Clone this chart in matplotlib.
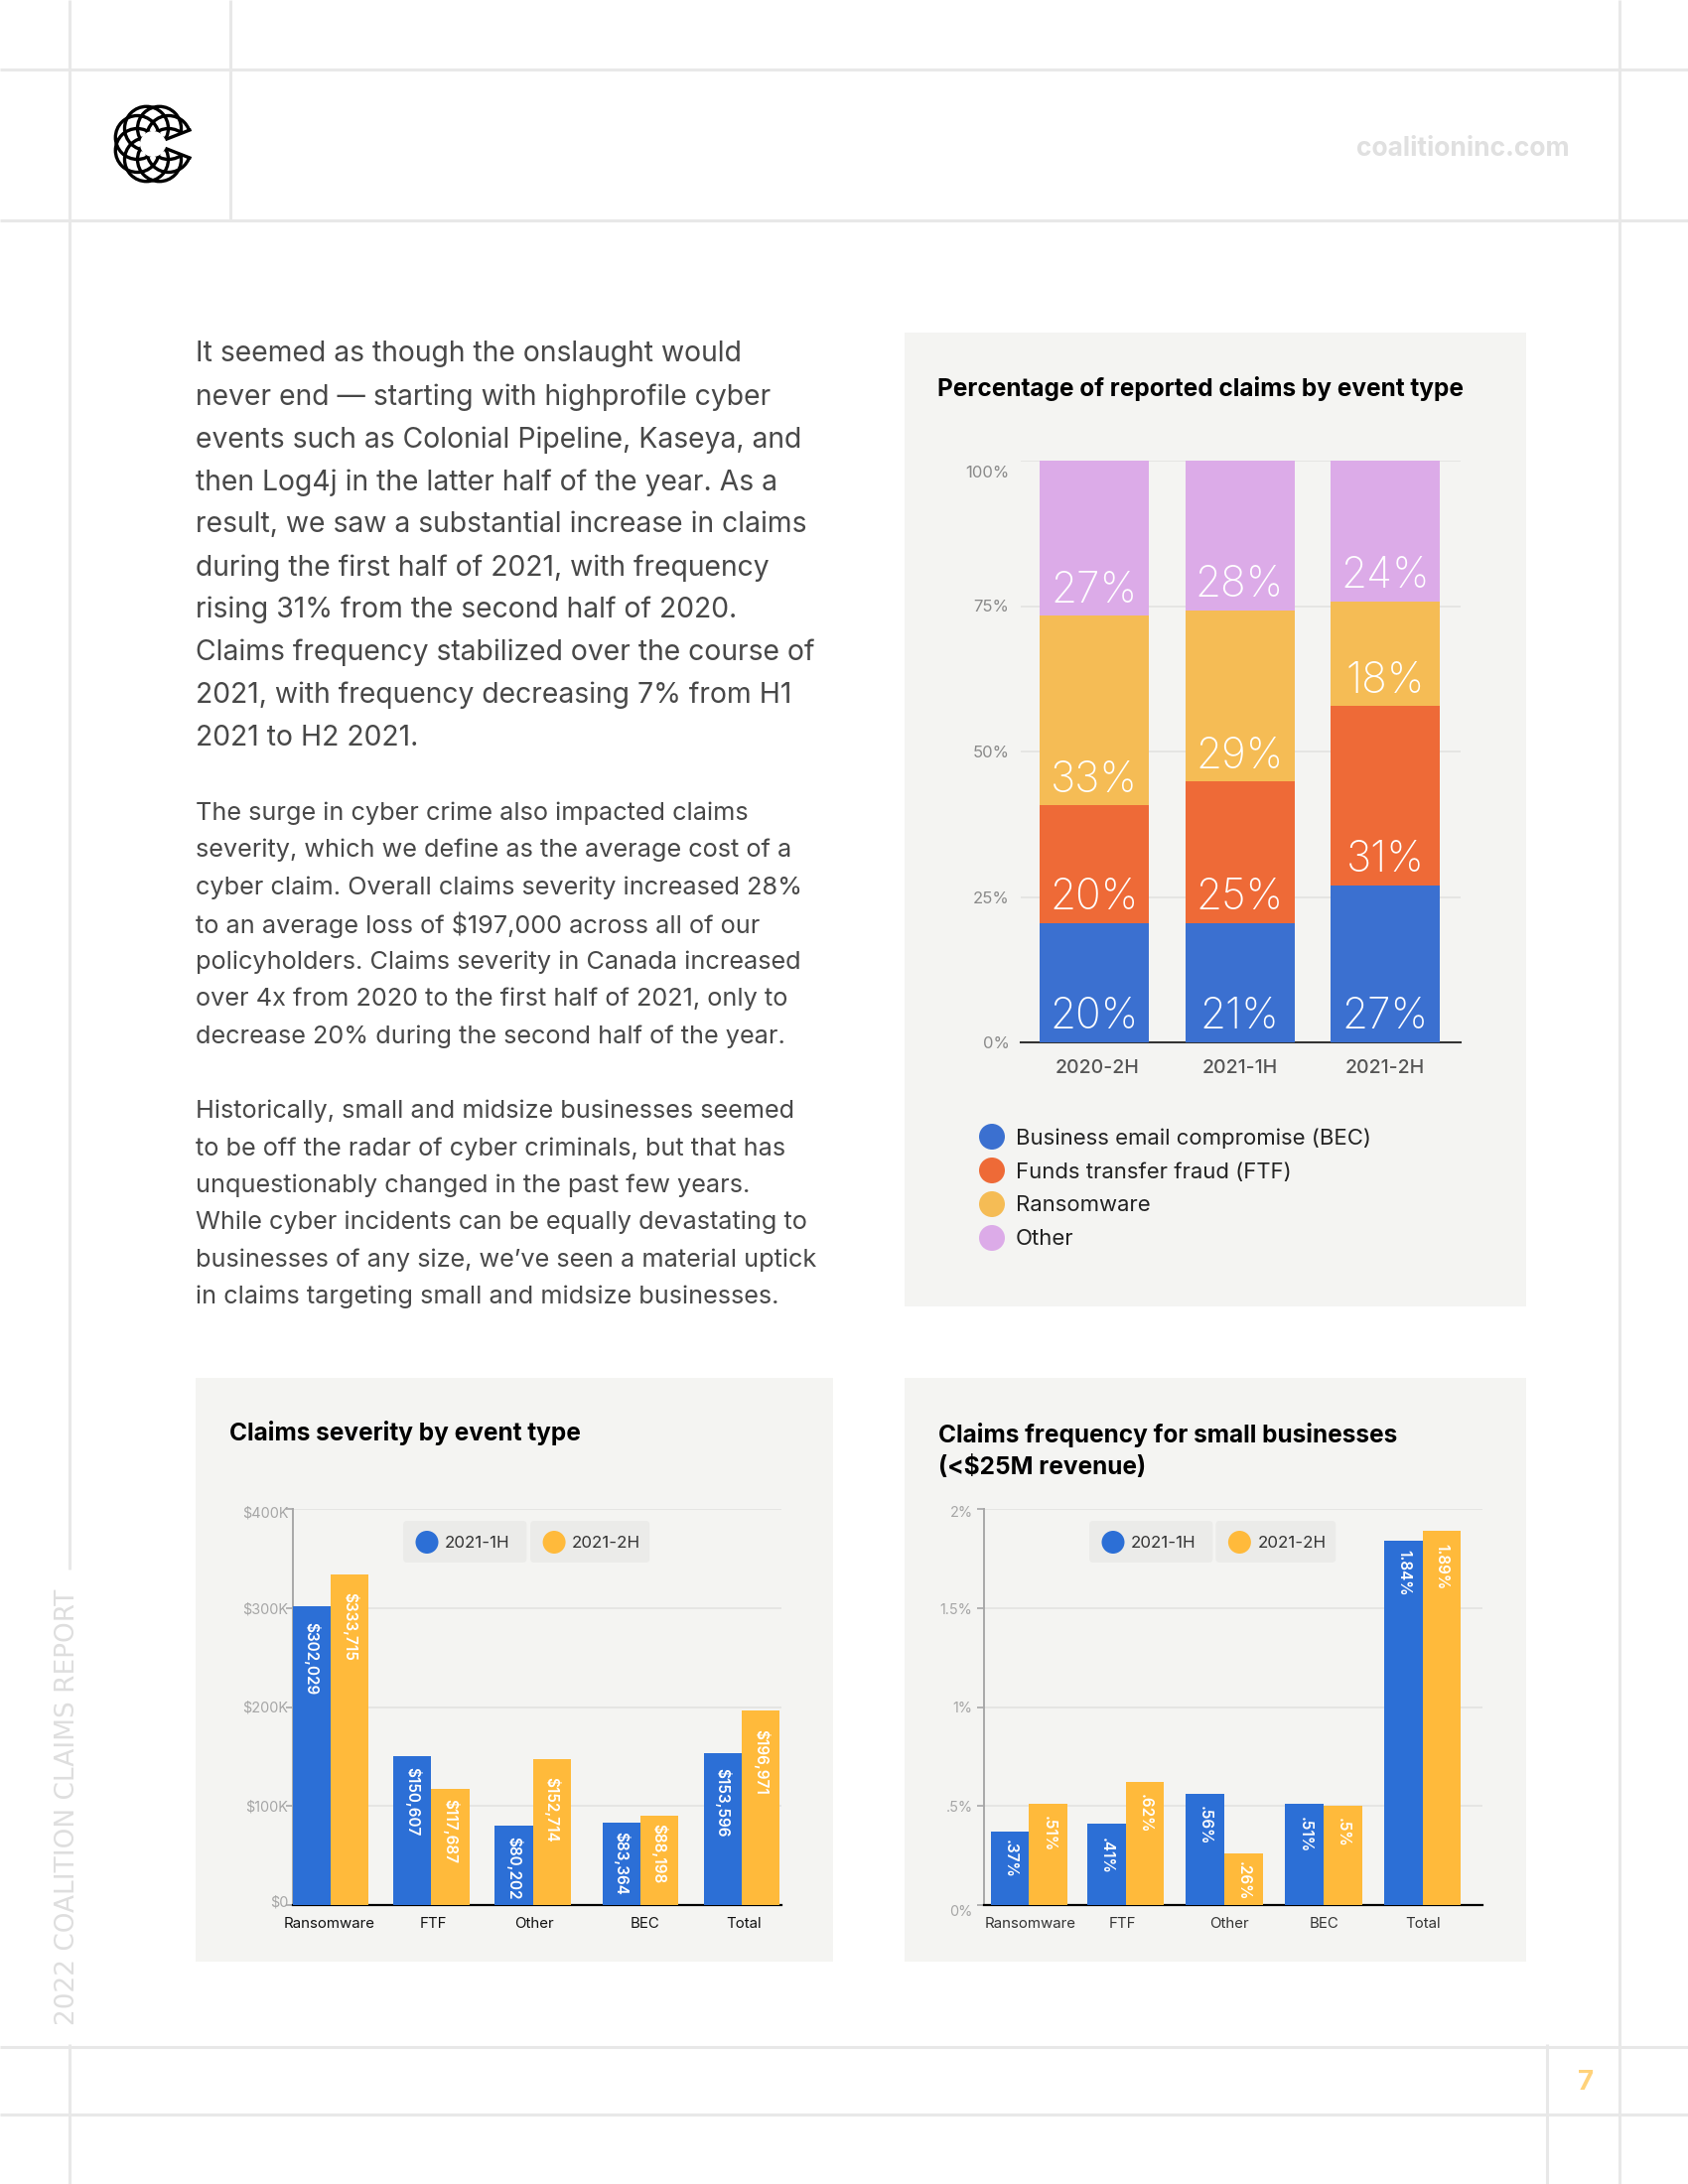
import matplotlib
matplotlib.use('Agg')
import matplotlib.pyplot as plt
from matplotlib.patches import Circle, FancyBboxPatch, Rectangle, Wedge
from matplotlib.transforms import ScaledTranslation
import numpy as np

plt.rcParams['font.family'] = ['Inter', 'DejaVu Sans']

# Stacked chart data (heights as drawn, labels as printed)
periods = ['2020-2H', '2021-1H', '2021-2H']
event_names = ['Business email compromise (BEC)', 'Funds transfer fraud (FTF)', 'Ransomware', 'Other']
bec_share = [20.5, 20.5, 27.0]
ftf_share = [20.2, 24.3, 30.8]
ransom_share = [32.6, 29.4, 18.0]
other_share = [26.7, 25.8, 24.2]
bec_labels = ['20%', '21%', '27%']
ftf_labels = ['20%', '25%', '31%']
ransom_labels = ['33%', '29%', '18%']
other_labels = ['27%', '28%', '24%']

# Grouped charts data
claim_types = ['Ransomware', 'FTF', 'Other', 'BEC', 'Total']
severity_1h = [302029, 150607, 80202, 83364, 153596]
severity_2h = [333715, 117687, 147000, 90000, 196971]
severity_1h_labels = ['$302,029', '$150,607', '$80,202', '$83,364', '$153,596']
severity_2h_labels = ['$333,715', '$117,687', '$152,714', '$88,198', '$196,971']
freq_1h = [0.37, 0.41, 0.56, 0.51, 1.84]
freq_2h = [0.51, 0.62, 0.26, 0.50, 1.89]
freq_1h_labels = ['.37%', '.41%', '.56%', '.51%', '1.84%']
freq_2h_labels = ['.51%', '.62%', '.26%', '.5%', '1.89%']

para_1 = ['It seemed as though the onslaught would',
          'never end \u2014 starting with highprofile cyber',
          'events such as Colonial Pipeline, Kaseya, and',
          'then Log4j in the latter half of the year. As a',
          'result, we saw a substantial increase in claims',
          'during the first half of 2021, with frequency',
          'rising 31% from the second half of 2020.',
          'Claims frequency stabilized over the course of',
          '2021, with frequency decreasing 7% from H1',
          '2021 to H2 2021.']
para_2 = ['The surge in cyber crime also impacted claims',
          'severity, which we define as the average cost of a',
          'cyber claim. Overall claims severity increased 28%',
          'to an average loss of $197,000 across all of our',
          'policyholders. Claims severity in Canada increased',
          'over 4x from 2020 to the first half of 2021, only to',
          'decrease 20% during the second half of the year.']
para_3 = ['Historically, small and midsize businesses seemed',
          'to be off the radar of cyber criminals, but that has',
          'unquestionably changed in the past few years.',
          'While cyber incidents can be equally devastating to',
          'businesses of any size, we\u2019ve seen a material uptick',
          'in claims targeting small and midsize businesses.']

W, H = 1700, 2200
BLUE, YELLOW = '#2c6fd6', '#ffba3b'
STACK_COLORS = ['#3b70d0', '#ee6a37', '#f5bc55', '#dcabe8']
PANEL = '#f4f4f2'
GRID = '#e5e5e3'
RULE = '#e8e8e8'

fig = plt.figure(figsize=(W / 100, H / 100), dpi=100, facecolor='white')

# full page layer in pixel coordinates
page = fig.add_axes([0, 0, 1, 1], zorder=0)
page.set_xlim(0, W)
page.set_ylim(H, 0)
page.axis('off')


def axes_px(left, top, right, bottom):
    ax = fig.add_axes([left / W, 1 - bottom / H, (right - left) / W, (bottom - top) / H], zorder=2)
    ax.patch.set_alpha(0)
    return ax


def nudge(label, dy_px):
    label.set_transform(label.get_transform() + ScaledTranslation(0, -dy_px / 100, fig.dpi_scale_trans))


# page rules
for y in [69.5, 222, 2062, 2130]:
    page.plot([0, W], [y, y], color=RULE, lw=2.2, solid_capstyle='butt')
for x, y0, y1 in [(70, 0, 1581), (70, 2059, H), (232, 0, 222), (1631, 0, H), (1558, 2059, H)]:
    page.plot([x, x], [y0, y1], color=RULE, lw=2.2, solid_capstyle='butt')
page.text(68.5, 1820, '2022 COALITION CLAIMS REPORT', rotation=90, ha='center', va='center',
          fontsize=19, color='#dedede', family='DejaVu Sans')
page.text(1581, 150, 'coalitioninc.com', ha='right', va='center', fontsize=19, fontweight='bold', color='#e0e0e0')
page.text(1597, 2098, '7', ha='center', va='center', fontsize=20, fontweight='bold', color='#ffd27a')

# logo
clip = Wedge((154, 145), 42, 22, 338, transform=page.transData)
for ang in np.arange(22.5, 360, 45):
    cx = 154 + 17 * np.cos(np.radians(ang))
    cy = 145 + 17 * np.sin(np.radians(ang))
    c = Circle((cx, cy), 22, fill=False, ec='black', lw=2.4)
    page.add_patch(c)
    c.set_clip_path(clip)
page.add_patch(Circle((154, 145), 13, fc='white', ec='none', zorder=3))
page.add_patch(Wedge((154, 145), 42, -22, 22, fc='white', ec='none', zorder=3))
for sgn in [-1, 1]:
    page.plot([168, 191], [145 + sgn * 5, 145 + sgn * 14], color='black', lw=2.4, zorder=4)

# body text
for lines, y0, step, size in [(para_1, 357, 42.95, 20.4), (para_2, 819, 37.5, 18.2), (para_3, 1119.5, 37.4, 18.2)]:
    for i, line in enumerate(lines):
        page.text(197, y0 + i * step, line, ha='left', va='center', fontsize=size, color='#484848')

# panels
for x0, y0, x1, y1 in [(911, 335, 1537, 1316), (197, 1388, 839, 1976), (911, 1388, 1537, 1976)]:
    page.add_patch(Rectangle((x0, y0), x1 - x0, y1 - y0, fc=PANEL, ec='none'))

page.text(944, 391.5, 'Percentage of reported claims by event type', ha='left', va='center', fontsize=17.6, fontweight='bold', color='black')
page.text(231, 1444, 'Claims severity by event type', ha='left', va='center', fontsize=17.6, fontweight='bold', color='black')
page.text(945, 1445, 'Claims frequency for small businesses', ha='left', va='center', fontsize=17.6, fontweight='bold', color='black')
page.text(945, 1478, '(<$25M revenue)', ha='left', va='center', fontsize=17.6, fontweight='bold', color='black')

# stacked chart
ax = axes_px(1027.5, 464, 1470.5, 1050)
x = np.arange(len(periods))
bottom = np.zeros(3)
stack = [(bec_share, bec_labels), (ftf_share, ftf_labels), (ransom_share, ransom_labels), (other_share, other_labels)]
for (vals, labs), col in zip(stack, STACK_COLORS):
    ax.bar(x, vals, width=0.751, bottom=bottom, color=col, zorder=3)
    for xi, b, lab in zip(x, bottom, labs):
        ax.text(xi, b + 4.3, lab, ha='center', va='center', color='white', fontsize=30.5, fontweight='light', zorder=4)
    bottom = bottom + np.array(vals)
ax.set_xlim(-0.509, 2.515)
ax.set_ylim(0, 100)
ax.set_xticks([0.02, 1, 2])
ax.set_xticklabels(periods, fontsize=14, color='#555555', fontweight='medium')
ax.set_yticks([0, 25, 50, 75, 100])
ax.set_yticklabels(['0%', '25%', '50%', '75%', '100%'], fontsize=12, color='#8a8a8a')
ax.tick_params(axis='both', length=0)
ax.tick_params(axis='x', pad=12.5)
ax.tick_params(axis='y', pad=8)
nudge(ax.get_yticklabels()[4], 11)
ax.grid(axis='y', color=GRID, lw=1.4, zorder=0)
ax.set_axisbelow(True)
for s in ['top', 'right', 'left']:
    ax.spines[s].set_visible(False)
ax.spines['bottom'].set_color('#333333')
ax.spines['bottom'].set_linewidth(1.5)

for name, col, y in zip(event_names, STACK_COLORS, [1145, 1179, 1213, 1247]):
    page.add_patch(Circle((999, y), 13, fc=col, ec='none', zorder=3))
    page.text(1023, y + 1.5, name, ha='left', va='center', fontsize=15.9, color='#222222')


def grouped(ax, pos, vals_a, vals_b, labs_a, labs_b, gaps_a, gaps_b, width, tick_x, ticks, tick_labels, name_col, dy_labels, ypad):
    pos = np.array(pos)
    ax.bar(pos - width / 2, vals_a, width=width, color=BLUE, zorder=3)
    ax.bar(pos + width / 2, vals_b, width=width, color=YELLOW, zorder=3)
    ax.set_yticks(ticks)
    ax.set_yticklabels(tick_labels, fontsize=10.4, color='#a6a6a6')
    ax.set_xticks(tick_x)
    ax.set_xticklabels(claim_types, fontsize=10.8, color=name_col)
    ax.tick_params(axis='x', length=0, pad=9)
    ax.tick_params(axis='y', length=5, width=1.2, color='#a8a8a8', pad=ypad)
    for lab, dy in zip(ax.get_yticklabels(), dy_labels):
        nudge(lab, dy)
    ax.grid(axis='y', color=GRID, lw=1.4, zorder=0)
    ax.set_axisbelow(True)
    for s in ['top', 'right']:
        ax.spines[s].set_visible(False)
    ax.spines['left'].set_color('#a8a8a8')
    ax.spines['left'].set_linewidth(1.4)
    ax.spines['bottom'].set_color('black')
    ax.spines['bottom'].set_linewidth(1.6)
    for off, vals, labs, gaps in [(-width / 2, vals_a, labs_a, gaps_a), (width / 2, vals_b, labs_b, gaps_b)]:
        for p, v, lab, g in zip(pos, vals, labs, gaps):
            ax.annotate(lab, (p + off, v), xytext=(0, -g * 0.72), textcoords='offset points', rotation=270,
                        ha='center', va='top', fontsize=11, fontweight='semibold', color='white', zorder=4)


def pills(x0, x1, x2, x3):
    for a, b, lab, col in [(x0, x1, '2021-1H', BLUE), (x2, x3, '2021-2H', YELLOW)]:
        page.add_patch(FancyBboxPatch((a + 3, 1535), b - a - 6, 36, boxstyle='round,pad=3,rounding_size=4', fc='#ebebe9', ec='none', zorder=5))
        page.add_patch(Circle((a + 24, 1553.5), 11.5, fc=col, ec='none', zorder=6))
        page.text(a + 42, 1554.5, lab, ha='left', va='center', fontsize=12.2, color='#333333', zorder=6)


# severity chart
ax2 = axes_px(295.3, 1520, 786.5, 1919)
grouped(ax2, [0, 0.98, 1.97, 3.02, 4.01], severity_1h, severity_2h, severity_1h_labels, severity_2h_labels,
        [16, 11, 11, 9, 15], [18, 10, 17.5, 8, 19], 0.37, [-0.015, 1.0, 1.98, 3.06, 4.03],
        [0, 100000, 200000, 300000, 400000], ['$0', '$100K', '$200K', '$300K', '$400K'], '#111111', [-4, 0, 0, 0, 3], -1.4)
ax2.set_xlim(-0.367, 4.39)
ax2.set_ylim(0, 400000)

# frequency chart
ax3 = axes_px(991.4, 1520, 1493, 1919)
grouped(ax3, [0, 0.98, 1.985, 2.995, 4.0], freq_1h, freq_2h, freq_1h_labels, freq_2h_labels,
        [8, 14, 12, 13, 9], [12, 12, 8, 12, 13], 0.39, [0.01, 0.95, 2.03, 3.0, 4.0],
        [0, 0.5, 1, 1.5, 2], ['0%', '.5%', '1%', '1.5%', '2%'], '#333333', [5, 0, 0, 1, 3], 3.5)
ax3.set_xlim(-0.455, 4.61)
ax3.set_ylim(0, 2)

pills(406, 530.4, 534.1, 654.2)
pills(1097, 1221.4, 1224.4, 1345.2)

fig.savefig('out.png', dpi=100)
